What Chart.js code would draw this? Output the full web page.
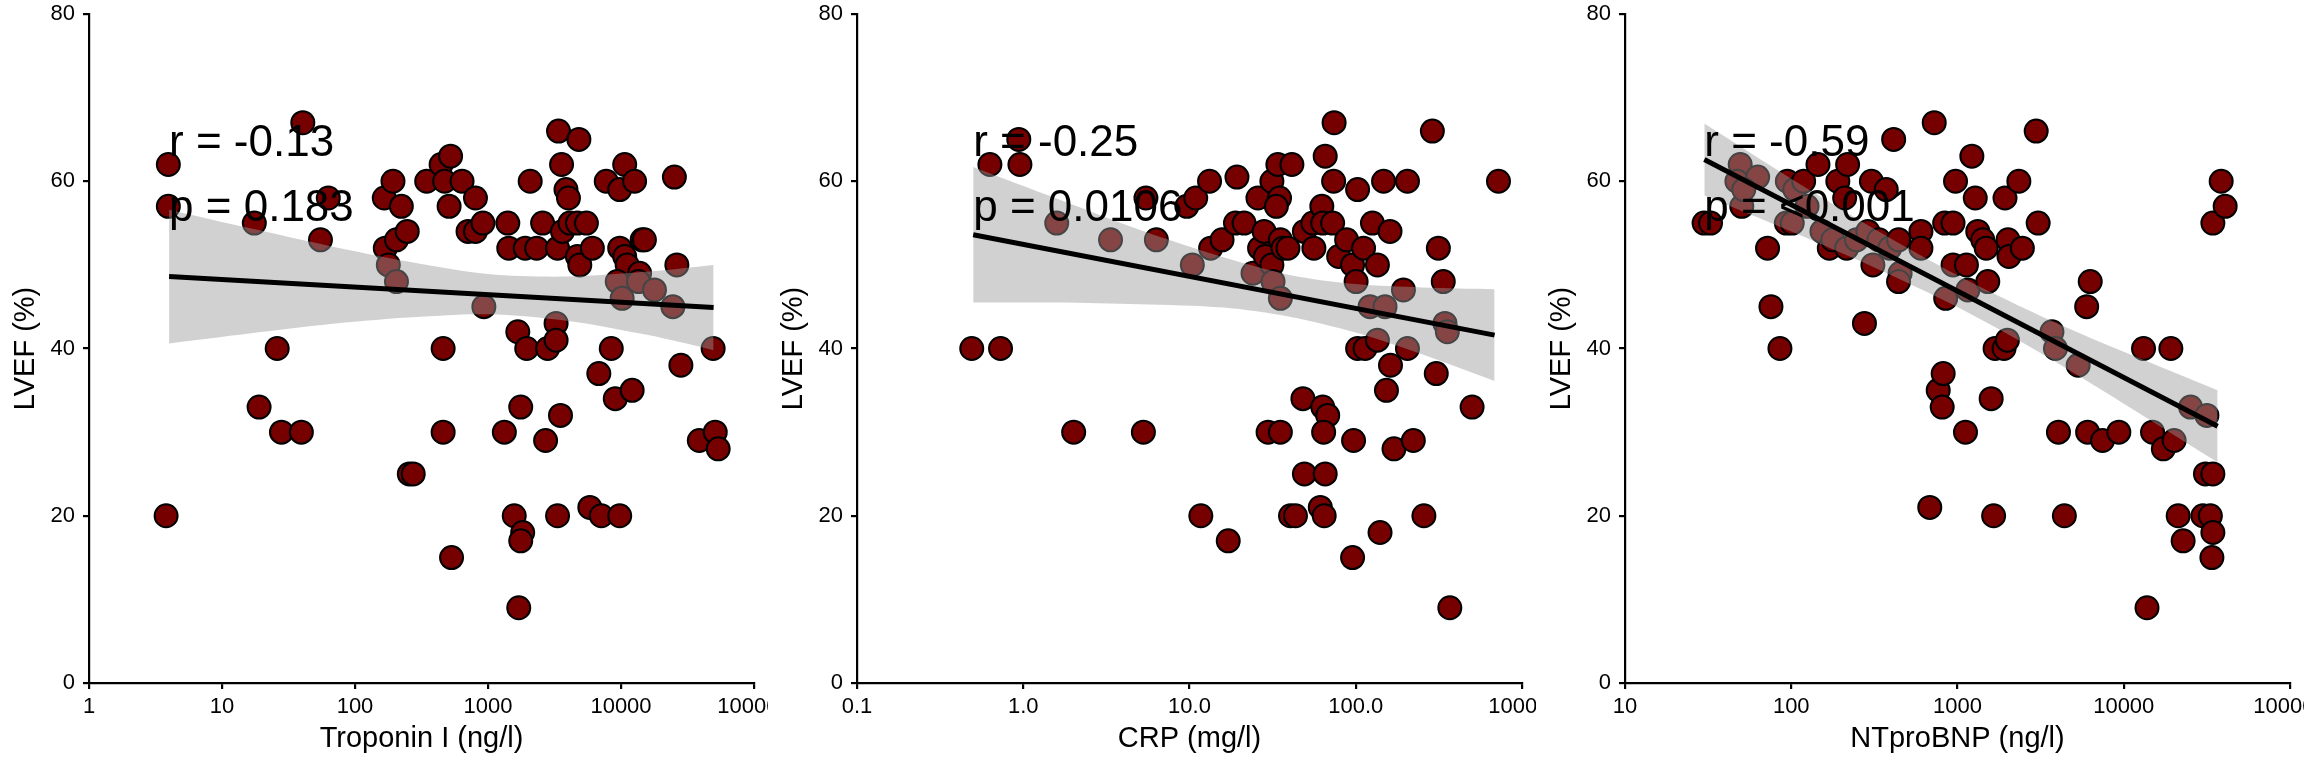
<!DOCTYPE html>
<html>
<head>
<meta charset="utf-8">
<script src="https://cdn.jsdelivr.net/npm/chart.js@4.4.1/dist/chart.umd.min.js"></script>
<style>
  html, body { margin: 0; padding: 0; background: #fff; }
  .row { display: flex; width: 2304px; height: 768px; }
  canvas { display: block; width: 768px; height: 768px; }
</style>
</head>
<body>
<div class="row">
  <canvas id="trop" width="768" height="768"></canvas>
  <canvas id="crp" width="768" height="768"></canvas>
  <canvas id="bnp" width="768" height="768"></canvas>
</div>
<script>
// shared y axis
const yTicks = [0, 20, 40, 60, 80];
const yTickLabels = ['0', '20', '40', '60', '80'];

// Troponin I panel
const tropTicks = [1, 10, 100, 1000, 10000, 100000];
const tropTickLabels = ['1', '10', '100', '1000', '10000', '100000'];
const tropX = [3.95, 3.95, 3.8, 40.5, 17.5, 55, 63, 26, 19, 28, 39.5, 166, 193, 223, 169, 205, 247, 178, 205, 256,
  274, 346, 444, 523, 472, 638, 510, 805, 708, 805, 916, 931, 460, 460, 532, 1409, 1433, 1905, 2076, 2323,
  2573, 3390, 3573, 3857, 4027, 4822, 3334, 3632, 4130, 4700, 5495, 4700, 4900, 6090, 1675, 1955, 2806, 3250, 3250, 1762,
  1327, 2710, 3508, 1575, 1823, 1762, 1703, 3334, 5830, 7113, 9780, 6810, 8450, 9060, 12130, 7745, 9780, 10660, 12650, 9780,
  10660, 11120, 9370, 10200, 13800, 14420, 13550, 17850, 24550, 25200, 26300, 28200, 49300, 38800, 51100, 53800, 15000];
const tropY = [62, 57, 20, 67, 55, 53, 58, 40, 33, 30, 30, 58, 60, 57, 52, 53, 54, 50, 48, 25,
  25, 60, 62, 63, 60, 60, 57, 58, 54, 54, 55, 45, 40, 30, 15, 55, 52, 52, 60, 52,
  55, 66, 62, 59, 58, 65, 52, 54, 55, 55, 55, 51, 50, 52, 42, 40, 40, 43, 41, 33,
  30, 29, 32, 20, 18, 17, 9, 20, 21, 20, 20, 37, 40, 34, 35, 60, 59, 62, 60, 52,
  51, 50, 48, 46, 49, 53, 48, 47, 45, 60.5, 50, 38, 40, 29, 30, 28, 53];
const tropFitX = [4, 49700];
const tropFitY = [48.6, 44.9];
const tropBandX = [4, 16, 63, 250, 1000, 4000, 16000, 49700];
const tropBandLo = [40.6, 41.8, 42.9, 43.7, 44.1, 43.3, 41.6, 39.8];
const tropBandHi = [56.6, 54.4, 52.3, 50.4, 48.9, 48.6, 49.2, 50.0];
const tropStats = ['r = -0.13', 'p = 0.183'];

// CRP panel
const crpTicks = [0.1, 1, 10, 100, 1000];
const crpTickLabels = ['0.1', '1.0', '10.0', '100.0', '1000.0'];
const crpX = [0.49, 0.73, 0.63, 0.94, 0.955, 1.59, 2.01, 3.35, 5.28, 5.47, 6.32, 9.64, 10.9, 10.4, 11.7, 13.2, 13.4, 15.7, 17.1, 19.3,
  18.9, 21.3, 24.1, 25.8, 26.4, 28.1, 28.6, 29.7, 31.3, 31.3, 31.8, 34.0, 34.8, 33.3, 35.2, 36.5, 35.2, 35.2, 41.3, 39.1,
  40.5, 43.4, 48.1, 49.1, 49.1, 55.2, 56, 61.2, 63.3, 65.5, 62.5, 63.3, 67.8, 64.1, 65.5, 64.6, 74.1, 73.6, 72.6, 78.9,
  88.1, 95.7, 97, 95.7, 102.6, 100.5, 102.6, 113.8, 111.4, 126, 121.9, 135, 135, 140, 147, 150, 160.7, 161.8, 153, 169.8,
  193.6, 204.7, 204.7, 222, 257, 289, 314, 305, 336, 344, 355.6, 368, 501, 722];
const crpY = [40, 40, 62, 65, 62, 55, 30, 53, 30, 58, 53, 57, 58, 50, 20, 60, 52, 53, 17, 60.5,
  55, 55, 49, 58, 52, 54, 51, 30, 60, 50, 48, 62, 58, 57, 53, 52, 46, 30, 62, 52,
  20, 20, 34, 25, 54, 55, 52, 21, 33, 63, 57, 55, 32, 30, 25, 20, 67, 60, 55, 51,
  53, 50, 29, 15, 59, 48, 40, 40, 52, 55, 45, 50, 41, 18, 60, 45, 54, 38, 35, 28,
  47, 60, 40, 29, 20, 66, 52, 37, 48, 43, 42, 9, 33, 60];
const crpFitX = [0.5, 684];
const crpFitY = [53.6, 41.6];
const crpBandX = [0.5, 1.6, 5, 16, 40, 100, 250, 684];
const crpBandLo = [45.5, 45.5, 45.3, 44.9, 43.8, 41.9, 39.3, 36.1];
const crpBandHi = [61.7, 57.9, 54.2, 50.9, 48.8, 47.7, 47.3, 47.1];
const crpStats = ['r = -0.25', 'p = 0.0106'];

// NTproBNP panel
const bnpTicks = [10, 100, 1000, 10000, 100000];
const bnpTickLabels = ['10', '100', '1000', '10000', '100000'];
const bnpX = [29.9, 32.7, 49.3, 47.1, 50.4, 62.8, 51.8, 72, 75.5, 85.5, 93.4, 94.7, 101.4, 105, 118.7, 124.5, 144.8, 153, 169.4, 177.8,
  190.6, 209.6, 218.3, 215.4, 247, 275.6, 289, 303.5, 309.8, 336.6, 372.7, 391, 413, 442.4, 451.7, 442, 602.6, 602.6, 681, 724.5,
  765.4, 820, 809, 837, 849, 940, 973, 940, 1117, 1132, 1155, 1220, 1279, 1324, 1419, 1489, 1521, 1594, 1683, 1649,
  1905, 1931, 1996, 2013, 2041, 2339, 2455, 2974, 3056, 3700, 3884, 4048, 4394, 5320, 6064, 5984, 6286, 7453, 9340, 13150,
  13800, 14900, 17300, 19200, 20100, 21250, 22760, 25230, 29930, 31000, 31620, 33200, 34360, 34360, 33900, 34360, 38550, 40740];
const bnpY = [55, 55, 62, 60, 57, 60.5, 59, 52, 45, 40, 55, 60, 55, 59, 60, 57, 62, 54, 52, 53,
  60, 58, 62, 52, 53, 43, 54, 60, 50, 53, 59, 52, 65, 53, 49, 48, 54, 52, 21, 67,
  35, 37, 33, 55, 46, 55, 60, 50, 30, 50, 47, 63, 58, 54, 53, 52, 48, 34, 40, 20,
  40, 58, 41, 53, 51, 60, 52, 66, 55, 42, 40, 30, 20, 38, 30, 45, 48, 29, 30, 40,
  9, 30, 28, 40, 29, 20, 17, 33, 20, 25, 32, 20, 25, 18, 15, 55, 60, 57];
const bnpFitX = [30, 36700];
const bnpFitY = [62.6, 30.7];
const bnpBandX = [30, 100, 316, 1000, 3162, 10000, 36700];
const bnpBandLo = [58.3, 54.0, 49.7, 44.95, 39.45, 33.4, 26.4];
const bnpBandHi = [66.9, 60.3, 54.3, 48.75, 43.9, 39.6, 35.0];
const bnpStats = ['r = -0.59', 'p = <0.001'];

const FONT = '"Liberation Sans", Arial, Helvetica, sans-serif';
const pairs = (xs, ys) => xs.map((x, i) => ({ x: x, y: ys[i] }));

// r / p annotation, placed at the left end of the fit line
const statText = {
  id: 'statText',
  afterDatasetsDraw(chart, args, opts) {
    const { ctx, scales: { x, y } } = chart;
    ctx.save();
    ctx.font = '44px ' + FONT;
    ctx.fillStyle = '#000';
    ctx.textAlign = 'left';
    ctx.textBaseline = 'alphabetic';
    const px = x.getPixelForValue(opts.x);
    opts.lines.forEach((t, i) => ctx.fillText(t, px, y.getPixelForValue(opts.at[i])));
    ctx.restore();
  }
};

function makePanel(id, p) {
  const ctx = document.getElementById(id).getContext('2d');
  return new Chart(ctx, {
    type: 'scatter',
    data: {
      datasets: [
        {
          type: 'line',
          data: pairs(p.fitX, p.fitY),
          borderColor: '#000',
          backgroundColor: '#000',
          borderWidth: 5,
          borderCapStyle: 'butt',
          pointRadius: 0,
          fill: false,
          order: 0
        },
        {
          type: 'line',
          data: pairs(p.bandX, p.bandHi),
          borderColor: 'rgba(0,0,0,0)',
          borderWidth: 0,
          pointRadius: 0,
          tension: 0.3,
          fill: '+1',
          backgroundColor: 'rgba(153,153,153,0.45)',
          order: 1
        },
        {
          type: 'line',
          data: pairs(p.bandX, p.bandLo),
          borderColor: 'rgba(0,0,0,0)',
          borderWidth: 0,
          pointRadius: 0,
          tension: 0.3,
          fill: false,
          order: 1
        },
        {
          data: pairs(p.xs, p.ys),
          backgroundColor: '#760000',
          borderColor: '#000',
          borderWidth: 2,
          pointRadius: 11.5,
          order: 2
        }
      ]
    },
    options: {
      responsive: false,
      devicePixelRatio: 1,
      animation: false,
      events: [],
      layout: { padding: { left: 0, right: 14, top: 14, bottom: 0 } },
      plugins: {
        legend: { display: false },
        tooltip: { enabled: false },
        statText: { x: p.fitX[0], lines: p.stats, at: [63, 55.3] }
      },
      scales: {
        x: {
          type: 'logarithmic',
          min: p.ticks[0],
          max: p.ticks[p.ticks.length - 1],
          afterBuildTicks: s => { s.ticks = p.ticks.map(v => ({ value: v })); },
          afterFit: s => { s.height = 85; s.paddingLeft = 0; s.paddingRight = 0; },
          ticks: {
            callback: (v, i) => p.tickLabels[i],
            autoSkip: false, maxRotation: 0, minRotation: 0,
            padding: 5, color: '#000',
            font: { family: FONT, size: 22, lineHeight: 1.2 }
          },
          grid: { drawOnChartArea: false, drawTicks: true, tickLength: 6, tickWidth: 2.2, tickColor: '#000', color: '#000', lineWidth: 2.2 },
          border: { display: true, color: '#000', width: 2.2 },
          title: { display: true, text: p.title, color: '#000', font: { family: FONT, size: 29, lineHeight: 1.2 }, padding: { top: 0, bottom: 12 } }
        },
        y: {
          type: 'linear',
          min: 0,
          max: 80,
          afterBuildTicks: s => { s.ticks = yTicks.map(v => ({ value: v })); },
          afterFit: s => { s.width = 89; s.paddingTop = 0; s.paddingBottom = 0; },
          ticks: {
            callback: (v, i) => yTickLabels[i],
            padding: 8, color: '#000',
            font: { family: FONT, size: 22, lineHeight: 1.2 }
          },
          grid: { drawOnChartArea: false, drawTicks: true, tickLength: 6, tickWidth: 2.2, tickColor: '#000', color: '#000', lineWidth: 2.2 },
          border: { display: true, color: '#000', width: 2.2 },
          title: { display: true, text: 'LVEF (%)', color: '#000', font: { family: FONT, size: 29, lineHeight: 1.2 }, padding: { top: 9, bottom: 0 } }
        }
      }
    },
    plugins: [statText]
  });
}

makePanel('trop', { xs: tropX, ys: tropY, fitX: tropFitX, fitY: tropFitY, bandX: tropBandX, bandLo: tropBandLo, bandHi: tropBandHi,
  ticks: tropTicks, tickLabels: tropTickLabels, title: 'Troponin I (ng/l)', stats: tropStats });
makePanel('crp', { xs: crpX, ys: crpY, fitX: crpFitX, fitY: crpFitY, bandX: crpBandX, bandLo: crpBandLo, bandHi: crpBandHi,
  ticks: crpTicks, tickLabels: crpTickLabels, title: 'CRP (mg/l)', stats: crpStats });
makePanel('bnp', { xs: bnpX, ys: bnpY, fitX: bnpFitX, fitY: bnpFitY, bandX: bnpBandX, bandLo: bnpBandLo, bandHi: bnpBandHi,
  ticks: bnpTicks, tickLabels: bnpTickLabels, title: 'NTproBNP (ng/l)', stats: bnpStats });
</script>
</body>
</html>
